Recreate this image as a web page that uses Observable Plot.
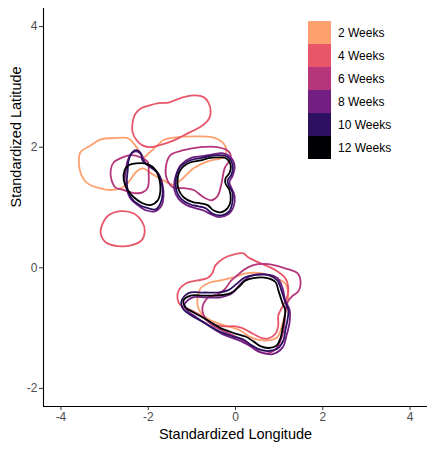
<!DOCTYPE html>
<html><head><meta charset="utf-8">
<script src="https://cdn.jsdelivr.net/npm/d3@7"></script>
<script src="https://cdn.jsdelivr.net/npm/@observablehq/plot@0.6"></script>
<style>
body{margin:0;background:#fff;font-family:"Liberation Sans",Arial,sans-serif}
#wrap{position:relative;width:435px;height:451px}
#legend{position:absolute;left:308px;top:21px}
.row{display:flex;align-items:center;height:23px}
.key{width:23px;height:23px}
.lab{margin-left:7px;font-size:12px;color:#000}
</style></head><body><div id="wrap"></div>
<script>
const weeks = ["2 Weeks","4 Weeks","6 Weeks","8 Weeks","10 Weeks","12 Weeks"];
const colors = ["#FDA06E","#E8566A","#B5367A","#721F81","#2D1160","#000004"];
const xTicks = [-4,-2,0,2,4];
const yTicks = [-2,0,2,4];
const xDomain = [-4.4,4.4];
const yDomain = [-2.3,4.3];
const xTitle = "Standardized Longitude";
const yTitle = "Standardized Latitude";

// 2 Weeks
const w2_top = [[-3.59,1.78],[-3.55,1.92],[-3.32,2.03],[-3.09,2.13],[-2.79,2.15],[-2.47,2.15],[-2.33,2.06],[-2.22,1.95],[-2.11,1.83],[-1.99,1.90],[-1.83,2.00],[-1.65,2.12],[-1.42,2.16],[-0.96,2.18],[-0.50,2.16],[-0.27,2.06],[-0.21,1.95],[-0.30,1.83],[-0.62,1.77],[-0.96,1.65],[-1.26,1.45],[-1.44,1.38],[-1.65,1.45],[-1.90,1.55],[-2.13,1.65],[-2.29,1.58],[-2.45,1.42],[-2.59,1.33],[-2.86,1.29],[-3.16,1.33],[-3.39,1.40],[-3.52,1.52]];
const w2_bot = [[-0.87,-0.51],[-0.80,-0.34],[-0.57,-0.24],[-0.34,-0.21],[-0.05,-0.16],[0.27,-0.09],[0.57,-0.09],[0.87,-0.16],[1.14,-0.26],[1.21,-0.46],[1.19,-0.59],[1.08,-0.92],[0.96,-1.15],[0.80,-1.20],[0.57,-1.20],[0.34,-1.15],[0.11,-1.04],[-0.27,-0.95],[-0.57,-0.87],[-0.80,-0.74],[-0.87,-0.62]];
// 4 Weeks
const w4_top = [[-2.36,2.40],[-2.29,2.56],[-2.15,2.65],[-1.99,2.69],[-1.76,2.73],[-1.53,2.74],[-1.35,2.79],[-1.14,2.84],[-0.92,2.86],[-0.73,2.83],[-0.62,2.74],[-0.57,2.61],[-0.59,2.50],[-0.69,2.40],[-0.87,2.31],[-1.10,2.23],[-1.30,2.15],[-1.53,2.08],[-1.76,2.03],[-1.95,2.00],[-2.13,2.03],[-2.27,2.12],[-2.36,2.25]];
const w4_small = [[-2.63,0.94],[-2.33,0.90],[-2.13,0.75],[-2.08,0.62],[-2.15,0.46],[-2.40,0.37],[-2.70,0.36],[-2.97,0.42],[-3.09,0.57],[-3.04,0.74],[-2.91,0.87]];
const w4_bot = [[-1.33,-0.51],[-1.30,-0.37],[-1.14,-0.26],[-0.87,-0.21],[-0.64,-0.17],[-0.53,-0.09],[-0.46,0.04],[-0.27,0.16],[-0.05,0.22],[0.18,0.24],[0.30,0.17],[0.53,0.09],[0.92,-0.04],[1.14,-0.17],[1.21,-0.34],[1.19,-0.47],[1.08,-0.64],[0.98,-0.79],[0.98,-0.95],[0.92,-1.09],[0.76,-1.17],[0.62,-1.17],[0.39,-1.09],[0.16,-1.00],[0,-0.97],[-0.27,-0.97],[-0.57,-0.92],[-0.80,-0.79],[-1.03,-0.70],[-1.26,-0.62]];
// 6 Weeks
const w6_left = [[-2.86,1.62],[-2.79,1.75],[-2.59,1.83],[-2.40,1.87],[-2.17,1.83],[-2.01,1.75],[-1.99,1.57],[-2.01,1.33],[-2.13,1.25],[-2.33,1.24],[-2.56,1.29],[-2.75,1.33],[-2.84,1.45]];
const w6_right = [[-1.60,1.65],[-1.49,1.87],[-1.19,1.95],[-0.80,2.00],[-0.41,2.00],[-0.16,1.93],[-0.11,1.82],[-0.25,1.65],[-0.32,1.40],[-0.41,1.19],[-0.55,1.12],[-0.73,1.17],[-0.96,1.29],[-1.19,1.32],[-1.42,1.33],[-1.56,1.45]];
const w6_bot = [[-0.73,-0.59],[-0.62,-0.49],[-0.41,-0.44],[-0.25,-0.36],[-0.11,-0.22],[0.05,-0.12],[0.18,-0.04],[0.39,0.04],[0.76,0.06],[1.14,-0.01],[1.42,-0.09],[1.49,-0.22],[1.44,-0.39],[1.30,-0.47],[1.19,-0.57],[1.14,-0.74],[1.12,-0.95],[1.05,-1.17],[0.94,-1.33],[0.71,-1.42],[0.48,-1.37],[0.25,-1.24],[0,-1.14],[-0.30,-1.04],[-0.53,-0.95],[-0.69,-0.84],[-0.76,-0.70]];
// 8 Weeks
const w8_left = [[-2.52,1.58],[-2.47,1.78],[-2.38,1.90],[-2.27,1.93],[-2.15,1.87],[-2.06,1.73],[-1.90,1.65],[-1.76,1.55],[-1.67,1.37],[-1.65,1.19],[-1.69,1.04],[-1.83,0.94],[-2.04,0.95],[-2.24,1.04],[-2.40,1.14],[-2.49,1.29],[-2.54,1.45]];
const w8_right = [[-1.37,1.52],[-1.26,1.70],[-1.03,1.82],[-0.76,1.85],[-0.53,1.88],[-0.30,1.90],[-0.11,1.83],[-0.02,1.68],[-0.07,1.52],[-0.14,1.42],[-0.09,1.32],[-0.02,1.19],[-0.05,1.00],[-0.16,0.89],[-0.37,0.84],[-0.57,0.89],[-0.73,0.95],[-0.92,0.99],[-1.12,1.04],[-1.30,1.14],[-1.40,1.29],[-1.40,1.42]];
const w8_bot = [[-1.17,-0.61],[-0.98,-0.49],[-0.69,-0.49],[-0.34,-0.49],[-0.07,-0.42],[0.11,-0.27],[0.34,-0.14],[0.69,-0.11],[0.96,-0.17],[1.08,-0.34],[1.14,-0.54],[1.24,-0.70],[1.24,-0.90],[1.17,-1.12],[1.08,-1.32],[0.85,-1.43],[0.57,-1.40],[0.34,-1.30],[0.07,-1.20],[-0.30,-1.10],[-0.64,-0.95],[-0.94,-0.80],[-1.12,-0.70]];
// 10 Weeks
const w10_left = [[-2.45,1.78],[-2.36,1.92],[-2.27,1.95],[-2.17,1.90],[-2.13,1.78],[-1.95,1.67],[-1.78,1.57],[-1.69,1.40],[-1.67,1.22],[-1.72,1.07],[-1.83,0.97],[-2.01,0.99],[-2.22,1.05],[-2.38,1.15],[-2.47,1.29],[-2.49,1.45],[-2.47,1.62]];
const w10_right = [[-1.35,1.55],[-1.26,1.68],[-1.05,1.78],[-0.80,1.82],[-0.62,1.85],[-0.41,1.87],[-0.21,1.85],[-0.07,1.72],[-0.09,1.55],[-0.18,1.45],[-0.16,1.37],[-0.07,1.25],[-0.07,1.09],[-0.14,0.94],[-0.32,0.87],[-0.53,0.90],[-0.69,0.99],[-0.85,1.02],[-1.03,1.05],[-1.24,1.14],[-1.35,1.27],[-1.37,1.42]];
const w10_bot = [[-1.24,-0.56],[-1.08,-0.42],[-0.73,-0.41],[-0.41,-0.41],[-0.16,-0.37],[0.02,-0.27],[0.21,-0.16],[0.41,-0.12],[0.76,-0.12],[0.96,-0.21],[1.05,-0.37],[1.14,-0.57],[1.21,-0.70],[1.19,-0.87],[1.14,-1.04],[1.10,-1.20],[0.98,-1.33],[0.76,-1.38],[0.53,-1.35],[0.34,-1.27],[0.18,-1.19],[-0.05,-1.14],[-0.39,-1.05],[-0.69,-0.92],[-1.01,-0.79],[-1.19,-0.69]];
// 12 Weeks
const w12_left = [[-2.45,1.70],[-2.29,1.73],[-2.01,1.72],[-1.83,1.62],[-1.74,1.45],[-1.72,1.29],[-1.78,1.12],[-1.95,1.04],[-2.13,1.07],[-2.33,1.17],[-2.47,1.29],[-2.56,1.45],[-2.54,1.62]];
const w12_right = [[-1.30,1.57],[-1.21,1.67],[-1.03,1.75],[-0.80,1.78],[-0.62,1.82],[-0.41,1.83],[-0.23,1.82],[-0.11,1.70],[-0.14,1.57],[-0.23,1.48],[-0.23,1.40],[-0.14,1.29],[-0.11,1.12],[-0.18,0.99],[-0.34,0.92],[-0.50,0.95],[-0.64,1.04],[-0.80,1.07],[-0.98,1.09],[-1.19,1.17],[-1.30,1.29],[-1.33,1.42]];
const w12_bot = [[-1.19,-0.54],[-1.03,-0.46],[-0.73,-0.46],[-0.41,-0.46],[-0.11,-0.42],[0.07,-0.32],[0.23,-0.21],[0.41,-0.17],[0.73,-0.17],[0.92,-0.24],[0.98,-0.37],[1.08,-0.59],[1.14,-0.70],[1.12,-0.84],[1.08,-1.00],[1.03,-1.17],[0.94,-1.29],[0.76,-1.33],[0.57,-1.30],[0.41,-1.22],[0.23,-1.14],[0,-1.09],[-0.34,-1.00],[-0.64,-0.87],[-0.96,-0.74],[-1.14,-0.66]];

const contours = [
  ["2 Weeks", w2_top], ["2 Weeks", w2_bot],
  ["4 Weeks", w4_top], ["4 Weeks", w4_small], ["4 Weeks", w4_bot],
  ["6 Weeks", w6_left], ["6 Weeks", w6_right], ["6 Weeks", w6_bot],
  ["8 Weeks", w8_left], ["8 Weeks", w8_right], ["8 Weeks", w8_bot],
  ["10 Weeks", w10_left], ["10 Weeks", w10_right], ["10 Weeks", w10_bot],
  ["12 Weeks", w12_left], ["12 Weeks", w12_right], ["12 Weeks", w12_bot]
];
const rows = contours.flatMap(([week, pts], i) => pts.map(([x, y]) => ({x, y, week, id: i})));
const fmt = d => String(d);

const chart = Plot.plot({
  width: 435, height: 451,
  marginLeft: 43, marginRight: 8, marginTop: 8, marginBottom: 45,
  style: {fontFamily: '"Liberation Sans", Arial, sans-serif', fontSize: "12px", background: "#fff"},
  x: {domain: xDomain},
  y: {domain: yDomain},
  color: {domain: weeks, range: colors},
  marks: [
    Plot.line(rows, {x: "x", y: "y", z: "id", stroke: "week", strokeWidth: 1.8, curve: "catmull-rom-closed"}),
    Plot.axisX({ticks: xTicks, tickFormat: fmt, tickSize: 4, tickPadding: 2, stroke: "#333", fill: "#4d4d4d", label: null}),
    Plot.axisY({ticks: yTicks, tickFormat: fmt, tickSize: 4, tickPadding: 2, stroke: "#333", fill: "#4d4d4d", label: null}),
    Plot.ruleY([yDomain[0]], {stroke: "#000", strokeWidth: 1.1}),
    Plot.ruleX([xDomain[0]], {stroke: "#000", strokeWidth: 1.1}),
    Plot.text([xTitle], {frameAnchor: "bottom", dy: 32, fontSize: 14.5, fill: "#000"}),
    Plot.text([yTitle], {frameAnchor: "left", dx: -27, rotate: -90, fontSize: 14.5, fill: "#000"})
  ]
});
const wrap = document.getElementById("wrap");
wrap.appendChild(chart);
const legend = document.createElement("div");
legend.id = "legend";
weeks.forEach((w, i) => {
  const r = document.createElement("div"); r.className = "row";
  const k = document.createElement("div"); k.className = "key"; k.style.background = colors[i];
  const l = document.createElement("span"); l.className = "lab"; l.textContent = w;
  r.appendChild(k); r.appendChild(l); legend.appendChild(r);
});
wrap.appendChild(legend);
</script></body></html>
